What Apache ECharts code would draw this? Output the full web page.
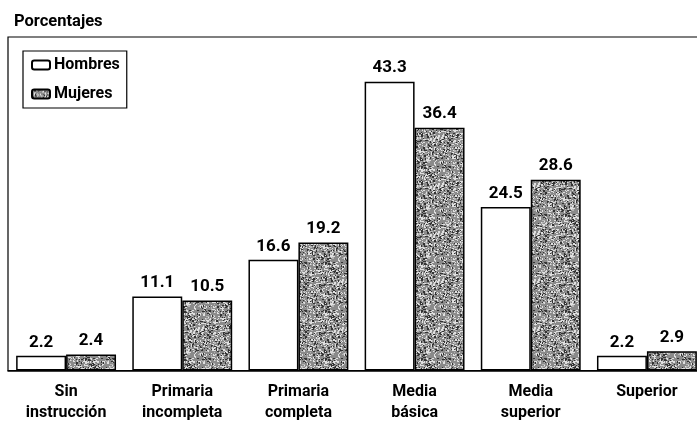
<!DOCTYPE html>
<html><head><meta charset="utf-8">
<script src="https://cdn.jsdelivr.net/npm/echarts@6/dist/echarts.min.js"></script>
<style>html,body{margin:0;padding:0;background:#fff}#c{width:697px;height:426px}</style>
</head><body><div id="c"></div>
<script>
const categories = ['Sin\ninstrucción','Primaria\nincompleta','Primaria\ncompleta','Media\nbásica','Media\nsuperior','Superior'];
const hombres = [2.2, 11.1, 16.6, 43.3, 24.5, 2.2];
const mujeres = [2.4, 10.5, 19.2, 36.4, 28.6, 2.9];
const seriesNames = ['Hombres','Mujeres'];
const FONT = '"Liberation Sans Narrow", Roboto, "Liberation Sans", Arial, sans-serif';

// speckled gray texture (deterministic)
function makePattern(){
  const cv = document.createElement('canvas');
  cv.width = 48; cv.height = 48;
  const ctx = cv.getContext('2d');
  ctx.fillStyle = '#8a8a8a'; ctx.fillRect(0,0,48,48);
  let s = 12345;
  function rnd(){ s = (s*1103515245 + 12345) & 0x7fffffff; return s/0x7fffffff; }
  for(let i=0;i<900;i++){
    const x = Math.floor(rnd()*48), y = Math.floor(rnd()*48);
    const v = rnd();
    ctx.fillStyle = v<0.45 ? '#e0e0e0' : (v<0.8 ? '#333' : '#b5b5b5');
    ctx.fillRect(x,y,1+(rnd()<0.3?1:0),1+(rnd()<0.2?1:0));
  }
  return cv;
}
const pat = {image: makePattern(), repeat: 'repeat'};

const chart = echarts.init(document.getElementById('c'));
const labelStyle = {show:true, position:'top', distance:5, color:'#000', fontFamily:FONT, fontSize:17, fontWeight:'bold'};
chart.setOption({
  animation:false,
  textStyle:{fontFamily:FONT},
  title:{text:'Porcentajes', left:9, top:8, textStyle:{fontFamily:FONT, fontSize:16.5, fontWeight:'bold', color:'#000'}},
  legend:{
    data:seriesNames, orient:'vertical', left:23, top:51,
    padding:[6,7,6,8], itemGap:13, itemWidth:18, itemHeight:9,
    borderColor:'#000', borderWidth:1.2,
    textStyle:{fontFamily:FONT, fontSize:16, fontWeight:'bold', color:'#000', padding:[0,0,0,-1]}
  },
  grid:{left:8, right:-8, top:37, bottom:55.5, show:true, borderColor:'#000', borderWidth:1.2,
        containLabel:false, outerBoundsMode:'none'},
  xAxis:{
    type:'category', data:categories,
    axisLine:{lineStyle:{color:'#000', width:1.5}},
    axisTick:{show:false},
    axisLabel:{color:'#000', fontFamily:FONT, fontSize:16, fontWeight:'bold', lineHeight:21, margin:11, interval:0}
  },
  yAxis:{type:'value', min:0, max:50, show:false, splitLine:{show:false}},
  series:[
    {name:seriesNames[0], type:'bar', data:hombres, barGap:'0%', barCategoryGap:'14%',
     itemStyle:{color:'#fff', borderColor:'#000', borderWidth:1.5}, label:labelStyle},
    {name:seriesNames[1], type:'bar', data:mujeres, barGap:'0%', barCategoryGap:'14%',
     itemStyle:{color:pat, borderColor:'#000', borderWidth:1.5}, label:labelStyle}
  ]
});
</script></body></html>
